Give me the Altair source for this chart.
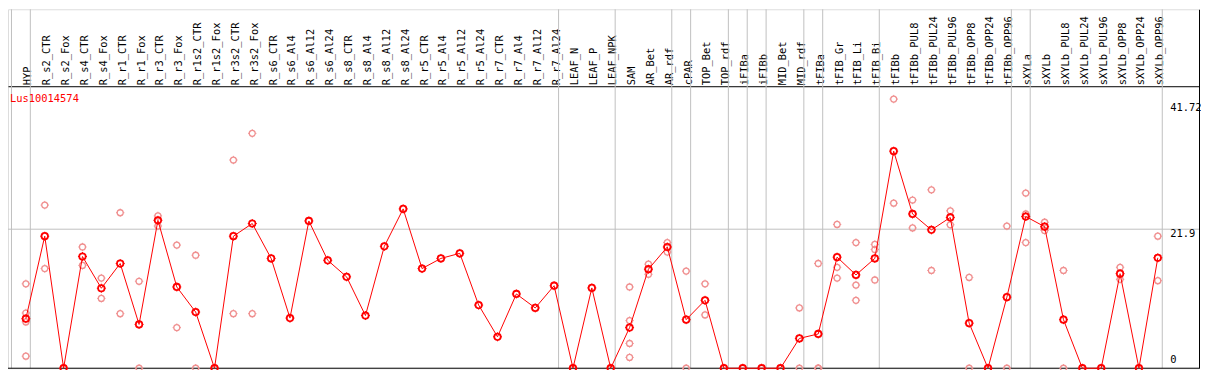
import altair as alt
import pandas as pd

# ---------------- data ----------------
categories = [
    "HYP", "R_s2_CTR", "R_s2_Fox", "R_s4_CTR", "R_s4_Fox", "R_r1_CTR", "R_r1_Fox",
    "R_r3_CTR", "R_r3_Fox", "R_r1s2_CTR", "R_r1s2_Fox", "R_r3s2_CTR", "R_r3s2_Fox",
    "R_s6_CTR", "R_s6_Al4", "R_s6_Al12", "R_s6_Al24", "R_s8_CTR", "R_s8_Al4",
    "R_s8_Al12", "R_s8_Al24", "R_r5_CTR", "R_r5_Al4", "R_r5_Al12", "R_r5_Al24",
    "R_r7_CTR", "R_r7_Al4", "R_r7_Al12", "R_r7_Al24", "LEAF_N", "LEAF_P", "LEAF_NPK",
    "SAM", "AR_Bet", "AR_rdf", "cPAR", "TOP_Bet", "TOP_rdf", "iFIBa", "iFIBb",
    "MID_Bet", "MID_rdf", "tFIBa", "tFIB_Gr", "tFIB_Li", "tFIB_Bi", "tFIBb",
    "tFIBb_PUL8", "tFIBb_PUL24", "tFIBb_PUL96", "tFIBb_OPP8", "tFIBb_OPP24",
    "tFIBb_OPP96", "sXYLa", "sXYLb", "sXYLb_PUL8", "sXYLb_PUL24", "sXYLb_PUL96",
    "sXYLb_OPP8", "sXYLb_OPP24", "sXYLb_OPP96",
]

groups = (
    ["HYP"] + ["ROOT"] * 28 + ["LEAF"] * 3 + ["SAM"] * 3 + ["cPAR"] + ["TOP"] * 2
    + ["iFIBa"] + ["iFIBb"] + ["MID"] * 2 + ["tFIBa"] + ["tFIB"] * 3 + ["tFIBb"] * 7
    + ["sXYLa"] + ["sXYLb"] * 7
)

means = [
    7.8, 20.8, 0.0, 17.6, 12.6, 16.5, 6.9, 23.3, 12.8, 8.85, 0.0, 20.8, 22.8,
    17.3, 7.9, 23.2, 17.0, 14.4, 8.3, 19.2, 25.1, 15.7, 17.3, 18.1, 9.95,
    4.95, 11.7, 9.5, 13.0, 0.0, 12.65, 0.0,
    6.4, 15.6, 19.1, 7.65, 10.7, 0.0, 0.0, 0.0, 0.0, 4.7, 5.4, 17.5, 14.7, 17.3,
    34.2, 24.3, 21.8, 23.75, 7.1, 0.0, 11.2, 23.9, 22.3, 7.65, 0.0, 0.0, 14.9, 0.0, 17.4,
]

replicates = [
    [13.3, 8.7, 7.3, 1.9], [25.7, 15.7], [], [19.1, 16.2], [14.2, 11.0], [24.5, 8.6],
    [13.7, 0.0], [24.0, 22.4], [19.4, 6.4], [17.8, 0.0], [], [32.8, 8.6], [37.0, 8.6],
    [], [], [], [], [], [], [], [], [], [], [], [], [], [], [], [], [], [], [],
    [12.8, 7.5, 3.9, 1.7], [16.4, 14.8], [19.8, 18.3], [15.3, 0.0], [13.3, 8.4],
    [], [], [], [], [9.5, 0.0], [16.5, 0.0, 0.0], [22.65, 15.9, 14.2],
    [19.8, 13.1, 10.7], [19.5, 18.7, 13.9], [26.0, 42.4], [26.5, 22.1], [28.1, 15.4],
    [24.8, 22.6], [14.3, 0.0], [], [22.4, 0.0], [27.6, 24.3, 19.8], [23.0, 21.7],
    [15.4, 0.0], [], [], [15.9, 14.0], [], [20.8, 13.8],
]

title_text = "Lus10014574"
y_ticks = [0, 21.9, 41.72]
y_tick_labels = ["0", "21.9", "41.72"]
y_grid = [21.9]

# ---------------- tables ----------------
n = len(categories)
mean_df = pd.DataFrame({"idx": list(range(n)), "val": means, "cat": categories})
rep_rows = [(i, v) for i, reps in enumerate(replicates) for v in reps]
rep_df = pd.DataFrame(rep_rows, columns=["idx", "val"])

ends = [-1] + [i for i in range(n) if i == n - 1 or groups[i] != groups[i + 1]]
GRID_SHIFT = 0.2368
vgrid_df = pd.DataFrame({"idx": [e + GRID_SHIFT for e in ends]})
hgrid_df = pd.DataFrame({"val": y_grid})
base_df = pd.DataFrame({"val": [0]})
ytick_df = pd.DataFrame({"val": y_ticks, "label": y_tick_labels})
ytop_df = ytick_df[ytick_df["val"] > 0]
ybot_df = ytick_df[ytick_df["val"] == 0]

# ---------------- scales ----------------
W, H = 1199.5, 361.5
STEP, FIRST = 19.0, 18.0
K = 6.3927
x_dom = [-FIRST / STEP, (W - FIRST) / STEP]
y_dom = [0, H / K]

FONT = "DejaVu Sans Mono"
names_js = "[" + ",".join("'" + c + "'" for c in categories) + "]"

xscale = alt.Scale(domain=x_dom, nice=False, zero=False)
yscale = alt.Scale(domain=y_dom, nice=False, zero=False)

xaxis = alt.Axis(
    orient="top", offset=-77.5, values=list(range(n)),
    labelExpr=names_js + "[datum.value]",
    labelAngle=270, labelAlign="left", labelBaseline="middle", labelPadding=1.5,
    labelOffset=2,
    labelFont=FONT, labelFontSize=10.5, labelColor="black",
    labelOverlap=False, labelFlush=False, labelBound=False,
    ticks=False, grid=False, domainColor="black", domainWidth=1, title=None,
)
yaxis = alt.Axis(
    orient="right", labels=False, ticks=False, grid=False,
    domainColor="black", domainWidth=1, title=None,
)

X = alt.X("idx:Q", scale=xscale, axis=xaxis)
Y = alt.Y("val:Q", scale=yscale, axis=yaxis)

GRID = "#c0c0c0"
RED = "#ff0000"
PINK = "#f09090"
TICKS = "M0,-1.4L0,-1M0,1L0,1.4M-1.4,0L-1,0M1,0L1.4,0"

vgrid = alt.Chart(vgrid_df).mark_rule(color=GRID, strokeWidth=1).encode(x=X)
hgrid = alt.Chart(hgrid_df).mark_rule(color=GRID, strokeWidth=1).encode(y=Y)
baseline = alt.Chart(base_df).mark_rule(color="black", strokeWidth=1).encode(y=Y)

rep_pts = alt.Chart(rep_df).mark_circle(
    filled=False, stroke=PINK, fillOpacity=0, strokeWidth=1.3, size=36, opacity=1
).encode(x=X, y=Y)
rep_ticks = alt.Chart(rep_df).mark_point(
    shape=TICKS, filled=False, color=PINK, strokeWidth=1, size=36, opacity=1
).encode(x=X, y=Y)

line = alt.Chart(mean_df).mark_line(color=RED, strokeWidth=1).encode(x=X, y=Y)
mean_pts = alt.Chart(mean_df).mark_circle(
    filled=False, stroke=RED, fillOpacity=0, strokeWidth=1.8, size=42, opacity=1
).encode(x=X, y=Y)
mean_ticks = alt.Chart(mean_df).mark_point(
    shape=TICKS, filled=False, color=RED, strokeWidth=1, size=42, opacity=1
).encode(x=X, y=Y)

ylab_top = alt.Chart(ytop_df).mark_text(
    align="left", baseline="top", font=FONT, fontSize=10.5, color="black", dy=-0.5
).encode(x=alt.value(1170.5), y=Y, text="label:N")
ylab_bot = alt.Chart(ybot_df).mark_text(
    align="left", baseline="bottom", font=FONT, fontSize=10.5, color="black", dy=-3
).encode(x=alt.value(1170.5), y=Y, text="label:N")

title = alt.Chart(pd.DataFrame({"t": [title_text]})).mark_text(
    align="left", baseline="alphabetic", font=FONT, fontSize=10.5, color=RED
).encode(x=alt.value(2), y=alt.value(93.7), text="t:N")

chart = alt.layer(
    vgrid, hgrid, baseline, rep_pts, rep_ticks, line, mean_pts, mean_ticks,
    ylab_top, ylab_bot, title,
).properties(
    width=W, height=H,
    padding={"left": 0, "top": 0, "right": 2, "bottom": 1},
    autosize=alt.AutoSizeParams(type="none"),
).configure_view(strokeWidth=0).configure(background="white")

chart.save("out.html", embed_options={"renderer": "svg", "actions": False})
